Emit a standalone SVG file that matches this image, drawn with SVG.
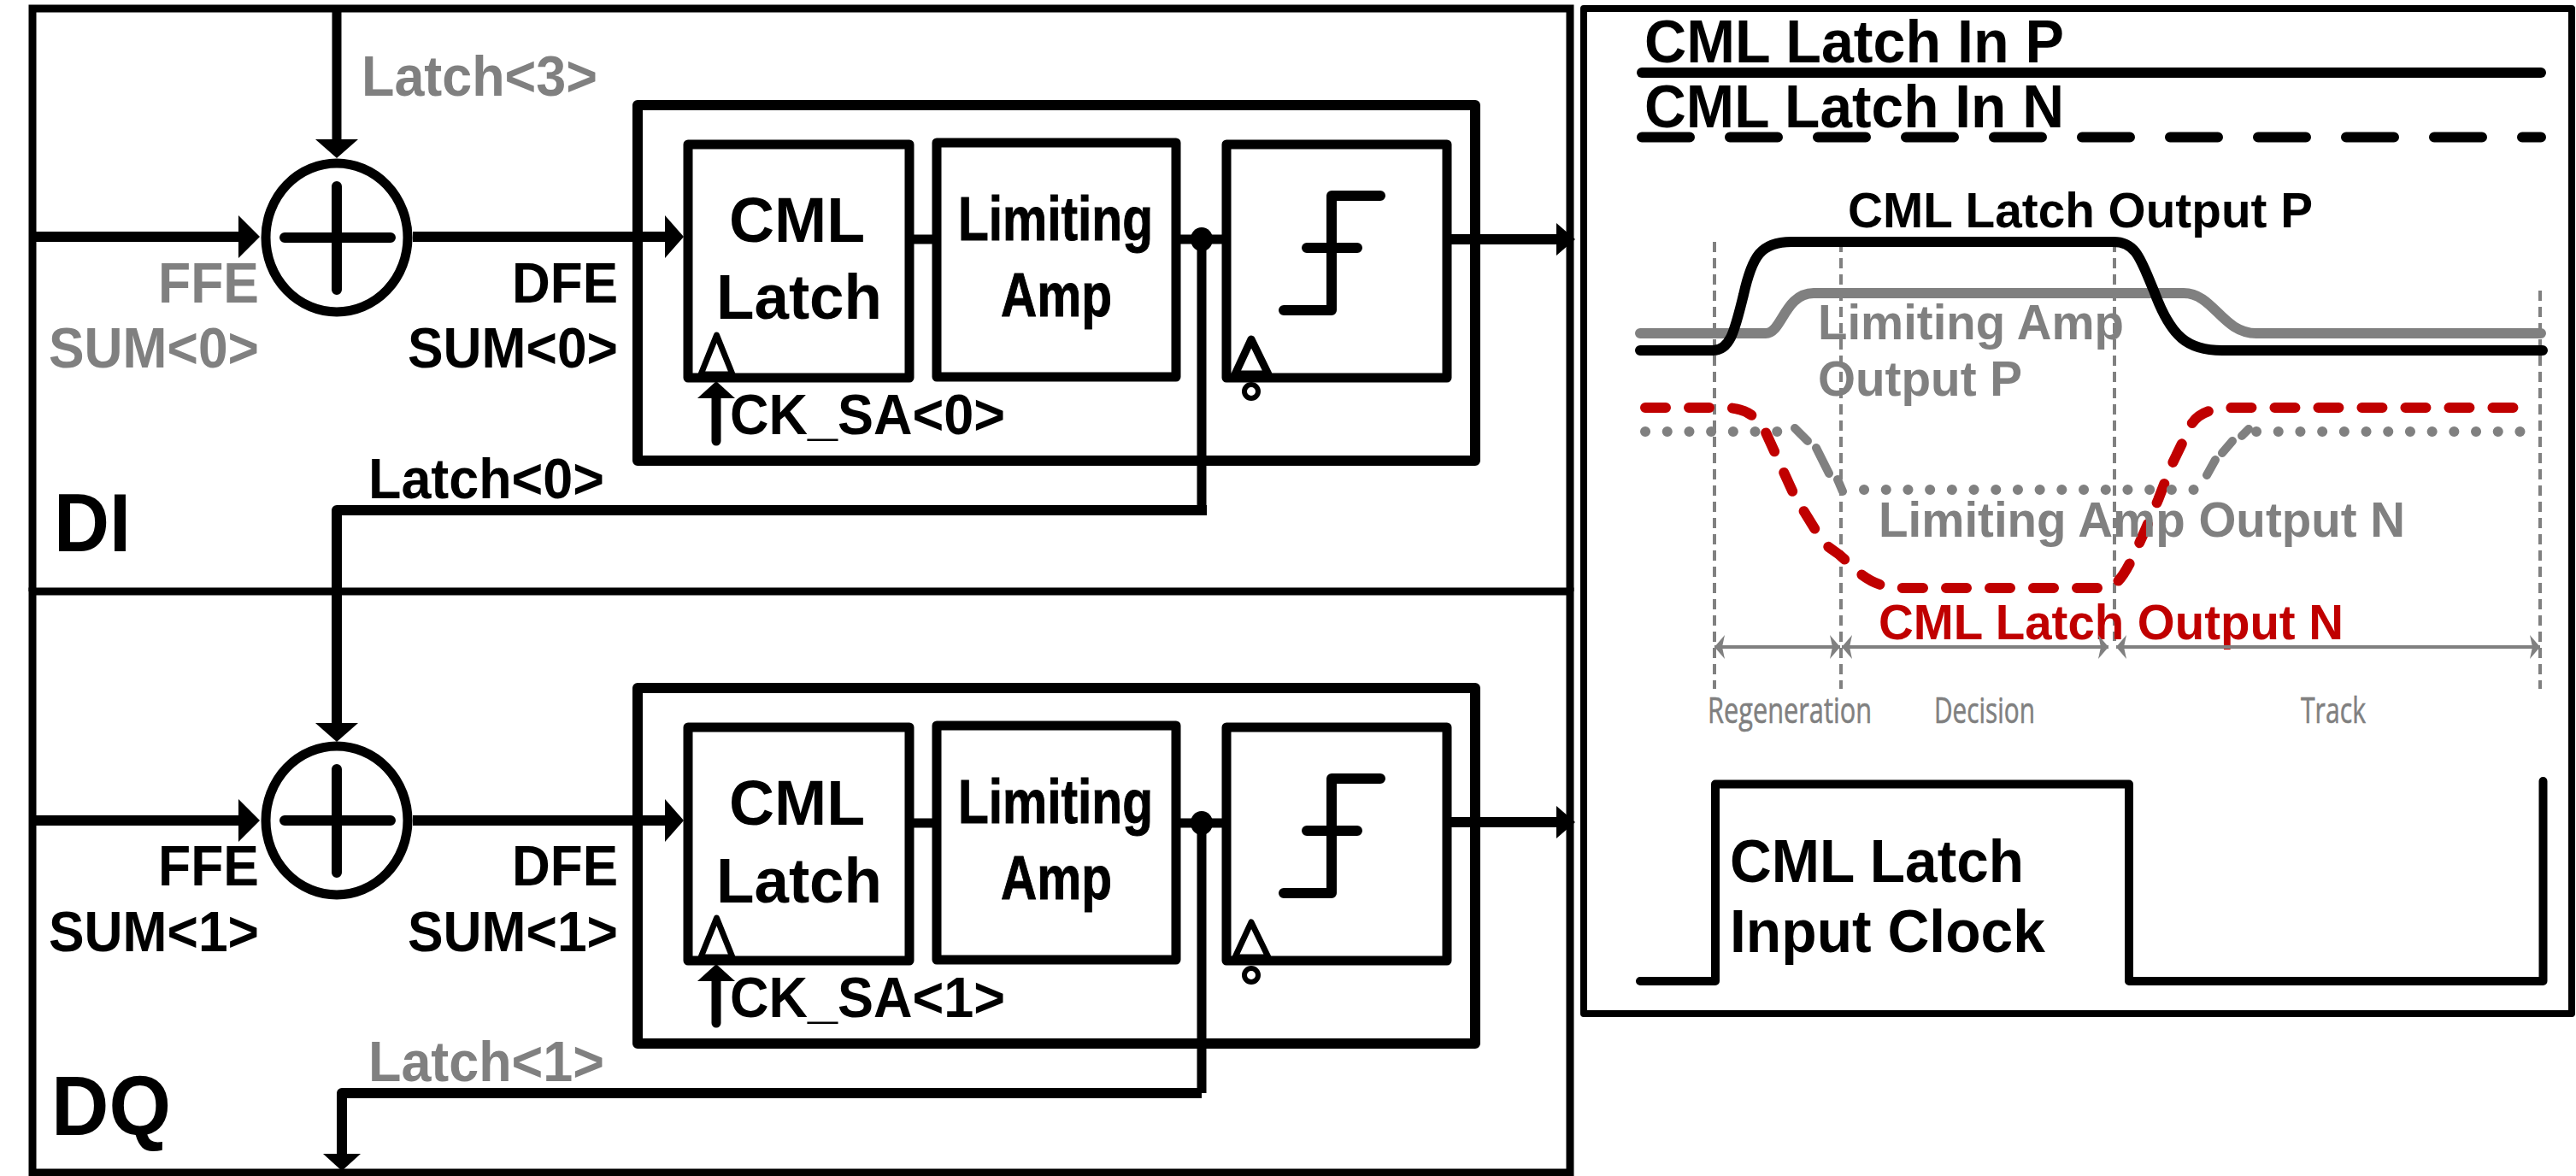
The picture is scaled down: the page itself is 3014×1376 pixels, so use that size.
<svg xmlns="http://www.w3.org/2000/svg" width="3014" height="1376" viewBox="0 0 3014 1376">
<style>
text{font-family:"Liberation Sans",Arial,sans-serif;font-weight:bold;fill:#000}
.g{fill:#808080}.r{fill:#C00000}
.s62{font-size:66px}.s72{font-size:74px}.s67{font-size:71px}.s56{font-size:58px}
.lim{font-size:72px;stroke:#000;stroke-width:1}
.lbl{font-family:"Open Sans","Liberation Sans",sans-serif;font-weight:normal;font-size:42px;fill:#808080;stroke:#808080;stroke-width:.6}
.box{fill:none;stroke:#000;stroke-width:11;stroke-linejoin:round}
.wire{fill:none;stroke:#000;stroke-width:11;stroke-linejoin:round}
.thin{fill:none;stroke:#000;stroke-width:9}
.tri{fill:#fff;stroke:#000;stroke-width:7;stroke-linejoin:round}
.sym{fill:none;stroke:#000;stroke-width:12;stroke-linecap:round;stroke-linejoin:round}
.vd{fill:none;stroke:#808080;stroke-width:4;stroke-dasharray:12 7}
.span{fill:none;stroke:#808080;stroke-width:4;marker-start:url(#sp);marker-end:url(#sp)}
.wave{fill:none;stroke-width:11;stroke-linecap:round;stroke-linejoin:round}
.dots{fill:none;stroke:#808080;stroke-width:12;stroke-linecap:round;stroke-dasharray:.1 25.6}
.dash{fill:none;stroke:#808080;stroke-width:10;stroke-linecap:round}
</style>
<defs>
<marker id="aL" markerUnits="userSpaceOnUse" markerWidth="26" markerHeight="50" refX="0" refY="25" orient="auto"><path d="M0 0L25 25L0 50Z" fill="#000"/></marker>
<marker id="aM" markerUnits="userSpaceOnUse" markerWidth="24" markerHeight="50" refX="0" refY="25" orient="auto"><path d="M0 0L22 25L0 50Z" fill="#000"/></marker>
<marker id="aS" markerUnits="userSpaceOnUse" markerWidth="24" markerHeight="38" refX="0" refY="19" orient="auto"><path d="M0 0L22 19L0 38Z" fill="#000"/></marker>
<marker id="aC" markerUnits="userSpaceOnUse" markerWidth="22" markerHeight="44" refX="0" refY="22" orient="auto"><path d="M0 0L20 22L0 44Z" fill="#000"/></marker>
<marker id="sp" markerUnits="userSpaceOnUse" markerWidth="14" markerHeight="30" refX="12" refY="15" orient="auto-start-reverse"><path d="M0 1L12 15L0 29L3 15Z" fill="#808080"/></marker>
</defs>
<rect width="3014" height="1376" fill="#fff"/>

<g id="panel-DI"><path class="thin" d="M38 692V10H1837V692"/><text x="63" y="645" style="font-size:96px" textLength="90" lengthAdjust="spacingAndGlyphs">DI</text></g>
<g id="panel-DQ"><path class="thin" d="M38 692H1837V1372H38Z"/><text x="60" y="1328" style="font-size:98px" textLength="140" lengthAdjust="spacingAndGlyphs">DQ</text></g>

<g id="connectors">
<path class="wire" d="M394 6V163" marker-end="url(#aM)"/>
<path class="wire" style="stroke-width:12" d="M38 277H279" marker-end="url(#aL)"/>
<path class="wire" style="stroke-width:12" d="M483 277H778" marker-end="url(#aM)"/>
<path class="wire" d="M1064 280H1096M1376 280H1435"/>
<path class="wire" style="stroke-width:12" d="M1693 280H1821" marker-end="url(#aS)"/>
<path class="wire" d="M1406 280V597"/>
<path class="wire" style="stroke-width:12" d="M1412 597H394V846" marker-end="url(#aM)"/>
<path class="wire" d="M838 516V466" style="stroke-linecap:round" marker-end="url(#aC)"/>
<path class="wire" style="stroke-width:12" d="M38 960H279" marker-end="url(#aL)"/>
<path class="wire" style="stroke-width:12" d="M483 960H778" marker-end="url(#aM)"/>
<path class="wire" d="M1064 963H1096M1376 963H1435"/>
<path class="wire" style="stroke-width:12" d="M1693 962H1821" marker-end="url(#aS)"/>
<path class="wire" d="M1406 962V1279"/>
<path class="wire" style="stroke-width:12" d="M1406 1279H400V1350" marker-end="url(#aC)"/>
<path class="wire" d="M838 1197V1148" style="stroke-linecap:round" marker-end="url(#aC)"/>
<ellipse cx="1406" cy="280" rx="13" ry="14"/>
<ellipse cx="1406" cy="963" rx="13" ry="14"/>
</g>

<g id="summer-0"><ellipse cx="394" cy="278" rx="83" ry="87" fill="none" stroke="#000" stroke-width="11"/><path class="sym" d="M333 278H457M394 218V339"/></g>
<g id="summer-1"><ellipse cx="394" cy="960" rx="83" ry="87" fill="none" stroke="#000" stroke-width="11"/><path class="sym" d="M333 960H457M394 900V1021"/></g>

<g id="labels-0">
<text class="s62 g" x="423" y="112" textLength="276" lengthAdjust="spacingAndGlyphs">Latch&lt;3&gt;</text>
<text class="s62 g" x="303" y="354" text-anchor="end" textLength="118" lengthAdjust="spacingAndGlyphs">FFE</text>
<text class="s62 g" x="303" y="430" text-anchor="end" textLength="246" lengthAdjust="spacingAndGlyphs">SUM&lt;0&gt;</text>
<text class="s62" x="723" y="354" text-anchor="end" textLength="124" lengthAdjust="spacingAndGlyphs">DFE</text>
<text class="s62" x="723" y="430" text-anchor="end" textLength="246" lengthAdjust="spacingAndGlyphs">SUM&lt;0&gt;</text>
<text class="s62" x="431" y="583" textLength="276" lengthAdjust="spacingAndGlyphs">Latch&lt;0&gt;</text>
</g>
<g id="labels-1">
<text class="s62" x="303" y="1036" text-anchor="end" textLength="118" lengthAdjust="spacingAndGlyphs">FFE</text>
<text class="s62" x="303" y="1113" text-anchor="end" textLength="246" lengthAdjust="spacingAndGlyphs">SUM&lt;1&gt;</text>
<text class="s62" x="723" y="1036" text-anchor="end" textLength="124" lengthAdjust="spacingAndGlyphs">DFE</text>
<text class="s62" x="723" y="1113" text-anchor="end" textLength="246" lengthAdjust="spacingAndGlyphs">SUM&lt;1&gt;</text>
<text class="s62 g" x="431" y="1265" textLength="276" lengthAdjust="spacingAndGlyphs">Latch&lt;1&gt;</text>
</g>

<g id="block-0"><rect class="box" style="stroke-width:12" x="746" y="123" width="980" height="416"/></g>
<g id="block-1"><rect class="box" style="stroke-width:12" x="746" y="805" width="980" height="416"/></g>

<g id="latch-0">
<rect class="box" x="805" y="169" width="259" height="273"/>
<path class="tri" d="M820 438L838.500 392L857 438Z"/>
<text class="s72" x="853" y="283" textLength="159" lengthAdjust="spacingAndGlyphs">CML</text><text class="s72" x="838" y="373" textLength="194" lengthAdjust="spacingAndGlyphs">Latch</text>
<text class="s62" x="854" y="508" textLength="322" lengthAdjust="spacingAndGlyphs">CK_SA&lt;0&gt;</text>
</g>
<g id="amp-0">
<rect class="box" x="1096" y="167" width="280" height="274"/>
<text class="lim" x="1121" y="281" textLength="228" lengthAdjust="spacingAndGlyphs">Limiting</text>
<text class="lim" x="1171" y="370" textLength="130" lengthAdjust="spacingAndGlyphs">Amp</text>
</g>
<g id="slicer-0">
<rect class="box" x="1435" y="169" width="258" height="273"/>
<path class="sym" d="M1615 229H1558V363H1502M1529 290H1588"/>
<path class="tri" style="stroke-width:9" d="M1445 438L1464 397L1484 438Z"/>
<ellipse cx="1464" cy="458" rx="8" ry="8" fill="#fff" stroke="#000" stroke-width="6"/>
</g>

<g id="latch-1">
<rect class="box" x="805" y="851" width="259" height="273"/>
<path class="tri" d="M820 1120L838.500 1074L857 1120Z"/>
<text class="s72" x="853" y="965" textLength="159" lengthAdjust="spacingAndGlyphs">CML</text><text class="s72" x="838" y="1056" textLength="194" lengthAdjust="spacingAndGlyphs">Latch</text>
<text class="s62" x="854" y="1190" textLength="322" lengthAdjust="spacingAndGlyphs">CK_SA&lt;1&gt;</text>
</g>
<g id="amp-1">
<rect class="box" x="1096" y="849" width="280" height="274"/>
<text class="lim" x="1121" y="963" textLength="228" lengthAdjust="spacingAndGlyphs">Limiting</text>
<text class="lim" x="1171" y="1052" textLength="130" lengthAdjust="spacingAndGlyphs">Amp</text>
</g>
<g id="slicer-1">
<rect class="box" x="1435" y="851" width="258" height="273"/>
<path class="sym" d="M1615 911H1558V1045H1502M1529 972H1588"/>
<path class="tri" style="stroke-width:7" d="M1445 1120L1464 1079L1484 1120Z"/>
<ellipse cx="1464" cy="1141" rx="8" ry="8" fill="#fff" stroke="#000" stroke-width="6"/>
</g>

<g id="timing-panel">
<rect x="1853" y="10" width="1156" height="1176" fill="none" stroke="#000" stroke-width="8" stroke-linejoin="round"/>
<text class="s67" x="1924" y="73" textLength="491" lengthAdjust="spacingAndGlyphs">CML Latch In P</text>
<path d="M1921 85H2973" stroke="#000" stroke-width="12" stroke-linecap="round"/>
<text class="s67" x="1924" y="149" textLength="491" lengthAdjust="spacingAndGlyphs">CML Latch In N</text>
<path d="M1921 160.500H2973" stroke="#000" stroke-width="12" stroke-linecap="round" stroke-dasharray="56 47"/>

<path class="vd" d="M2006 283V806M2154 283V806M2474 283V750M2972 340V806"/>

<path class="wave" stroke="#808080" style="stroke-width:12" d="M1919 390H2066C2085 390 2088 343 2122 343H2555C2590 343 2600 390 2640 390H2973"/>
<path class="wave" stroke="#000" style="stroke-width:12" d="M1919 410H2004C2025 410 2030 385 2040 345C2050 300 2060 283 2096 283H2473C2500 283 2505 305 2520 340C2540 395 2560 410 2600 410H2975"/>
<path class="wave" stroke="#C00000" style="stroke-width:12;stroke-dasharray:24 27" d="M1925 477H2017C2045 477 2058 490 2066 506L2100 581L2134 636L2152 649L2179 673C2195 685 2210 688 2232 688H2461C2480 688 2490 665 2510 620L2525 585L2540 546L2563 498C2572 482 2590 477 2616 477H2957"/>
<path class="dots" d="M1925 505H2100M2181 573H2578M2640 505H2973"/>
<path class="dash" d="M2100 501L2115 516M2125 524L2140 554M2150 561L2156 575M2582 556L2592 538M2600 530L2612 516M2623 510L2631 502"/>

<text class="s56" x="2162" y="266" textLength="544" lengthAdjust="spacingAndGlyphs">CML Latch Output P</text>
<text class="s56 g" x="2127" y="397" textLength="358" lengthAdjust="spacingAndGlyphs">Limiting Amp</text>
<text class="s56 g" x="2127" y="463" textLength="239" lengthAdjust="spacingAndGlyphs">Output P</text>
<text class="s56 g" x="2198" y="628" textLength="616" lengthAdjust="spacingAndGlyphs">Limiting Amp Output N</text>
<text class="s56 r" x="2198" y="748" textLength="544" lengthAdjust="spacingAndGlyphs">CML Latch Output N</text>

<path class="span" d="M2006 757H2153"/>
<path class="span" d="M2155 757H2467"/>
<path class="span" d="M2476 757H2972"/>
<text class="lbl" x="1998" y="846" textLength="192" lengthAdjust="spacingAndGlyphs">Regeneration</text>
<text class="lbl" x="2263" y="846" textLength="118" lengthAdjust="spacingAndGlyphs">Decision</text>
<text class="lbl" x="2692" y="846" textLength="76" lengthAdjust="spacingAndGlyphs">Track</text>

<path class="wave" stroke="#000" style="stroke-width:10" d="M1919 1148H2007V917.500H2491V1148H2975.500V914"/>
<text class="s67" x="2024" y="1032" textLength="344" lengthAdjust="spacingAndGlyphs">CML Latch</text>
<text class="s67" x="2024" y="1114" textLength="369" lengthAdjust="spacingAndGlyphs">Input Clock</text>
</g>
</svg>
